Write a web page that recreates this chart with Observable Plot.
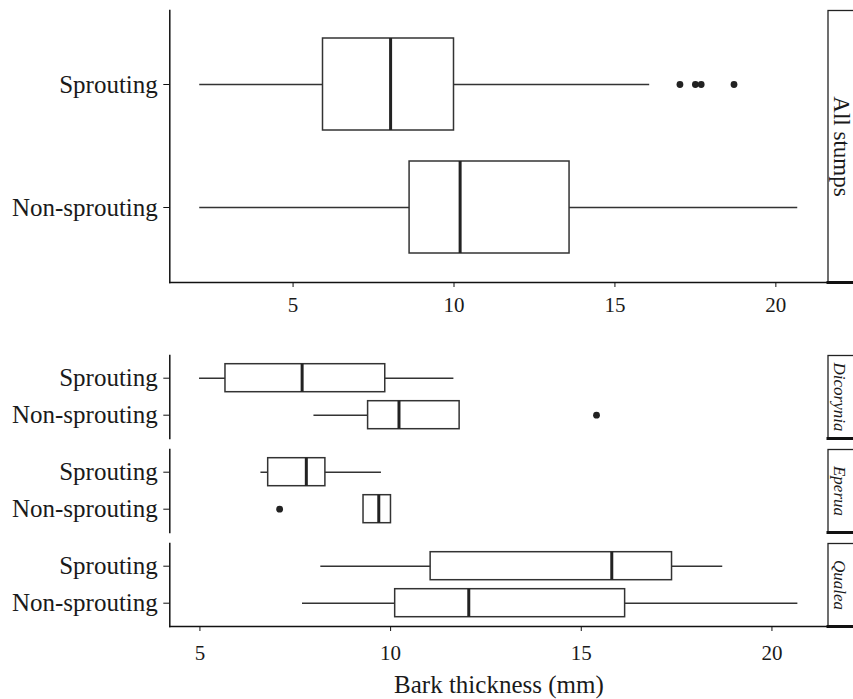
<!DOCTYPE html>
<html>
<head>
<meta charset="utf-8">
<script src="https://cdn.jsdelivr.net/npm/d3@7"></script>
<script src="https://cdn.jsdelivr.net/npm/@observablehq/plot@0.6"></script>
<style>
  body { margin: 0; background: #fff; }
  #chart { width: 853px; }
  #chart svg { display: block; }
</style>
</head>
<body>
<div id="chart"></div>
<script>
// ---------- data ----------
const statuses = ["Sprouting", "Non-sprouting"];
const xTicks = [5, 10, 15, 20];

// Top panel: all stumps
const allStrip = ["All stumps"];
const allStatus = ["Sprouting", "Non-sprouting"];
const allLow    = [2.10, 2.10];
const allQ1     = [5.93, 8.62];
const allMedian = [8.03, 10.19];
const allQ3     = [10.00, 13.59];
const allHigh   = [16.08, 20.68];
const allOutStatus = ["Sprouting", "Sprouting", "Sprouting", "Sprouting"];
const allOutValue  = [17.02, 17.50, 17.68, 18.70];

// Bottom panel: by genus
const genera  = ["Dicorynia", "Eperua", "Qualea"];
const gGenus  = ["Dicorynia", "Dicorynia", "Eperua", "Eperua", "Qualea", "Qualea"];
const gStatus = ["Sprouting", "Non-sprouting", "Sprouting", "Non-sprouting", "Sprouting", "Non-sprouting"];
const gLow    = [4.99, 7.99, 6.60, 9.29, 8.17, 7.69];
const gQ1     = [5.67, 9.41, 6.79, 9.29, 11.05, 10.12];
const gMedian = [7.68, 10.22, 7.79, 9.69, 15.80, 12.05];
const gQ3     = [9.86, 11.81, 8.29, 10.01, 17.38, 16.15];
const gHigh   = [11.66, 11.81, 9.76, 10.01, 18.71, 20.68];
const gOutGenus  = ["Dicorynia", "Eperua"];
const gOutStatus = ["Non-sprouting", "Non-sprouting"];
const gOutValue  = [15.40, 7.09];

const xTitle = "Bark thickness (mm)";

// ---------- tables ----------
const allBoxes = allStatus.map((s, i) => ({status: s, low: allLow[i], q1: allQ1[i], median: allMedian[i], q3: allQ3[i], high: allHigh[i]}));
const allOut = allOutValue.map((v, i) => ({status: allOutStatus[i], value: v}));
const gBoxes = gStatus.map((s, i) => ({genus: gGenus[i], status: s, low: gLow[i], q1: gQ1[i], median: gMedian[i], q3: gQ3[i], high: gHigh[i]}));
const gOut = gOutValue.map((v, i) => ({genus: gOutGenus[i], status: gOutStatus[i], value: v}));

// ---------- styles ----------
const W = 853;
const ML = 169.3, MR = 25.5;
const plotW = W - ML - MR;
const boxStroke = "#333";
const font = "'Liberation Serif', 'Times New Roman', serif";
const baseStyle = {fontFamily: font, background: "white", color: "#1a1a1a"};

function boxMarks(data, out, extra) {
  return [
    Plot.ruleY(data, {y: "status", x1: "low", x2: "high", stroke: boxStroke, strokeWidth: 1.5, ...extra}),
    Plot.barX(data, {y: "status", x1: "q1", x2: "q3", fill: "white", stroke: boxStroke, strokeWidth: 1.5, ...extra}),
    Plot.tickX(data, {y: "status", x: "median", stroke: "#222", strokeWidth: 3, ...extra}),
    Plot.dot(out, {y: "status", x: "value", r: 3.4, fill: "#222", stroke: "none", ...extra})
  ];
}

// ---------- top chart ----------
const topChart = Plot.plot({
  width: W,
  height: 330,
  marginLeft: ML,
  marginRight: MR,
  marginTop: 10,
  marginBottom: 48,
  style: baseStyle,
  x: {domain: [1.17, 21.62]},
  y: {type: "band", domain: statuses, paddingInner: 0.25, paddingOuter: 0.225},
  marks: [
    ...boxMarks(allBoxes, allOut, {}),
    Plot.frame({insetLeft: plotW, insetRight: -34, stroke: "#222", strokeWidth: 1.3}),
    Plot.frame({anchor: "bottom", insetLeft: plotW, insetRight: -34, stroke: "#111", strokeWidth: 3}),
    Plot.frame({anchor: "left", stroke: "#111", strokeWidth: 1.5}),
    Plot.frame({anchor: "bottom", stroke: "#111", strokeWidth: 1.5}),
    Plot.text(allStrip, {text: d => d, frameAnchor: "right", textAnchor: "middle", lineAnchor: "middle", rotate: 90, dx: 13, fontSize: 23, fill: "#1a1a1a"}),
    Plot.axisY({label: null, tickSize: 6, tickPadding: 6, fontSize: 25, stroke: "#111"}),
    Plot.axisX({ticks: xTicks, label: null, tickSize: 5, tickPadding: 10, fontSize: 21, stroke: "#111"})
  ]
});

// ---------- bottom chart ----------
const bottomChart = Plot.plot({
  width: W,
  height: 369,
  marginLeft: ML,
  marginRight: MR,
  marginTop: 24.3,
  marginBottom: 72.3,
  style: baseStyle,
  x: {domain: [4.21, 21.47]},
  y: {type: "band", domain: statuses, paddingInner: 0.25, paddingOuter: 0.225},
  fy: {domain: genera, paddingInner: 0.113, paddingOuter: 0, axis: null},
  marks: [
    ...boxMarks(gBoxes, gOut, {fy: "genus"}),
    Plot.frame({insetLeft: plotW, insetRight: -34, stroke: "#222", strokeWidth: 1.3}),
    Plot.frame({anchor: "bottom", insetLeft: plotW, insetRight: -34, stroke: "#111", strokeWidth: 3}),
    Plot.frame({anchor: "left", stroke: "#111", strokeWidth: 1.5}),
    Plot.frame({anchor: "bottom", facetAnchor: "bottom", stroke: "#111", strokeWidth: 1.5}),
    Plot.text(genera, {fy: d => d, text: d => d, frameAnchor: "right", textAnchor: "middle", lineAnchor: "middle", rotate: 90, dx: 11.5, fontSize: 17, fontStyle: "italic", fill: "#1a1a1a"}),
    Plot.axisY({label: null, tickSize: 6, tickPadding: 6, fontSize: 25, stroke: "#111"}),
    Plot.axisX({ticks: xTicks, label: null, tickSize: 5, tickPadding: 14, fontSize: 21, stroke: "#111"}),
    Plot.text([xTitle], {text: d => d, frameAnchor: "bottom", facetAnchor: "bottom", lineAnchor: "middle", dy: 58, fontSize: 25, fill: "#1a1a1a"})
  ]
});

const chart = document.getElementById("chart");
chart.appendChild(topChart);
chart.appendChild(bottomChart);
</script>
</body>
</html>
